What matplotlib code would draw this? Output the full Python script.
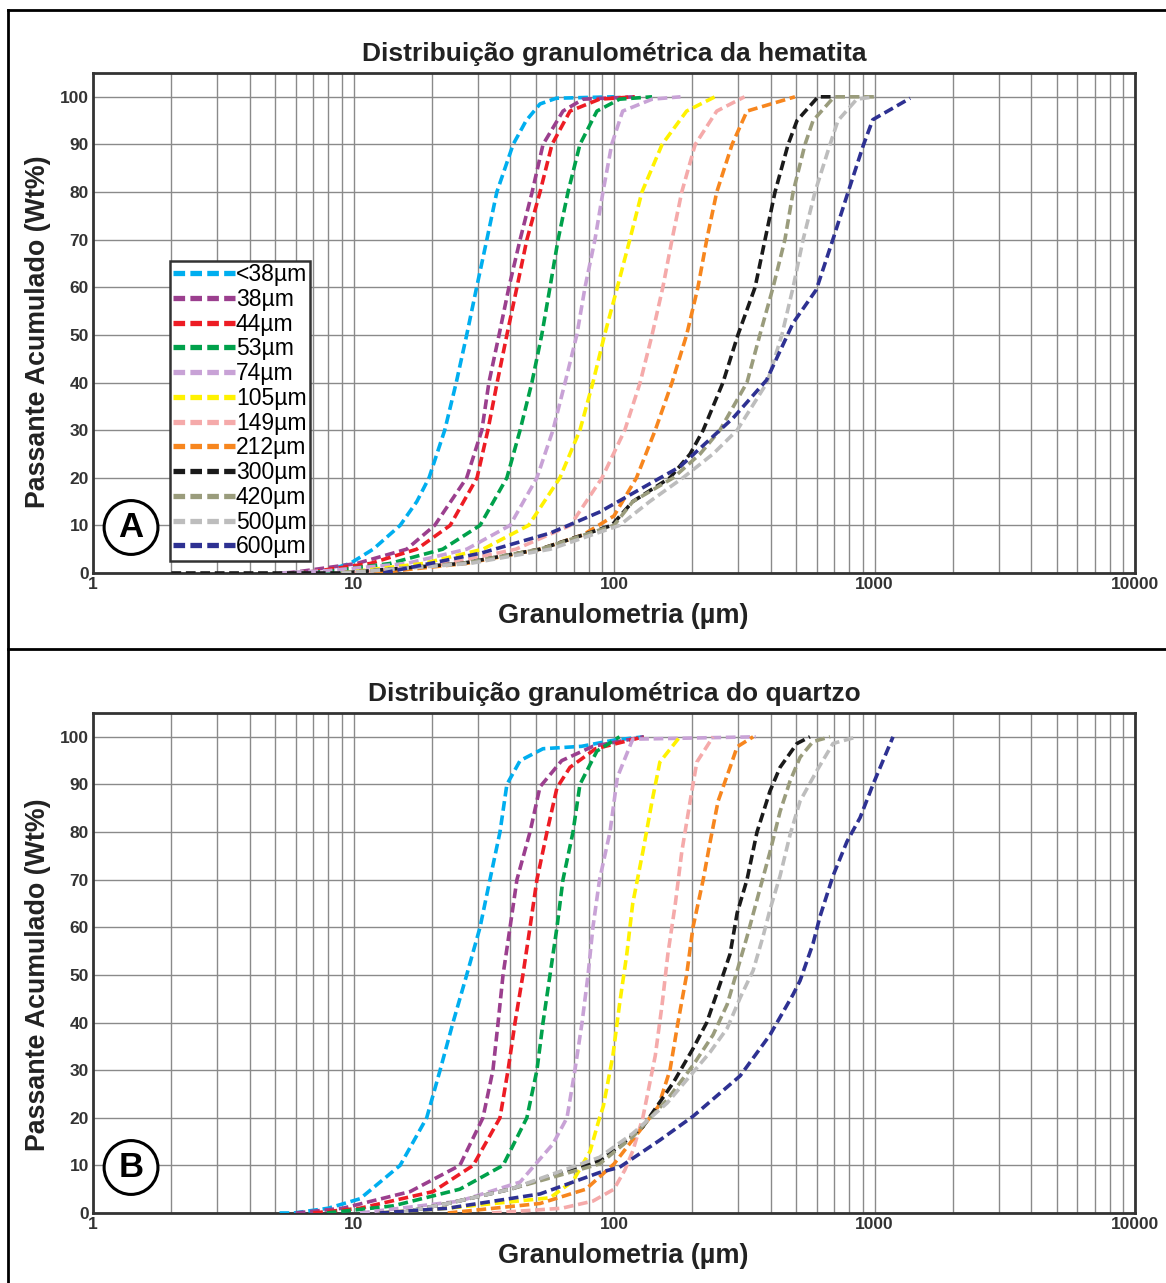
import matplotlib
matplotlib.use("Agg")
import matplotlib.pyplot as plt
from matplotlib.lines import Line2D

plt.rcParams['font.family'] = ['Liberation Sans', 'DejaVu Sans']

# ---------------- data ----------------
labels = ['<38µm', '38µm', '44µm', '53µm', '74µm', '105µm', '149µm', '212µm',
          '300µm', '420µm', '500µm', '600µm']
colors = ['#00AEEF', '#9B3F8E', '#ED1C24', '#00A14B', '#C8A2D6', '#FFF200',
          '#F5AAAA', '#F7861E', '#1A1A1A', '#9A9C7C', '#BDBDBD', '#2E3192']

x_ticks = [1, 10, 100, 1000, 10000]
x_tick_labels = ['1', '10', '100', '1000', '10000']
y_ticks = [0, 10, 20, 30, 40, 50, 60, 70, 80, 90, 100]

# Panel A - hematita
hem_lt38_x = [6, 7.9, 9.7, 11.9, 15.1, 17.5, 19.5, 22.4, 24.8, 27.2, 29.7, 32.5, 35.5, 41, 46, 52, 60, 100]
hem_lt38_y = [0, 0.5, 2, 5, 10, 15, 20, 30, 40, 50, 60, 70, 80, 90, 95, 98.5, 99.7, 100]
hem_38_x = [5.5, 6.2, 10.3, 16, 20.5, 27.2, 31.1, 33.1, 36.2, 39.5, 43.6, 48.5, 53.4, 63.7, 76, 120]
hem_38_y = [0, 0.3, 2, 5, 10, 20, 30, 40, 50, 60, 70, 80, 90, 97, 99.5, 100]
hem_44_x = [6, 7, 11.6, 17.5, 23.5, 29.8, 32.8, 35.6, 38.8, 42.4, 46.3, 52, 57.8, 67.8, 88, 120]
hem_44_y = [0, 0.3, 2, 5, 10, 20, 30, 40, 50, 60, 70, 80, 90, 97, 99.5, 100]
hem_53_x = [6, 8, 13.8, 22, 30.6, 38.8, 43.6, 48.4, 52.8, 56.8, 61, 66.6, 74, 86, 105, 140]
hem_53_y = [0, 0.3, 2, 5, 10, 20, 30, 40, 50, 60, 70, 80, 90, 97, 99.5, 100]
hem_74_x = [5.2, 8, 16, 27.2, 39.9, 50.6, 58.3, 64.9, 72, 77.4, 84.5, 90.7, 98, 108, 140, 180]
hem_74_y = [0, 0.5, 2, 5, 10, 20, 30, 40, 50, 60, 70, 80, 90, 97, 99.5, 100]
hem_105_x = [9, 18.5, 31.4, 47, 62, 74, 83, 92, 103, 115, 128, 153, 190, 244]
hem_105_y = [0, 2, 5, 10, 20, 30, 40, 50, 60, 70, 80, 90, 97, 100]
hem_149_x = [10, 23, 42, 68, 90, 110, 126, 140, 154, 167, 182, 205, 248, 317]
hem_149_y = [0, 2, 5, 10, 20, 30, 40, 50, 60, 70, 80, 90, 97, 100]
hem_212_x = [12, 27, 52, 76, 100, 122, 144, 167, 190, 210, 227, 248, 284, 324, 495]
hem_212_y = [0, 2, 5, 8, 12, 20, 30, 40, 50, 60, 70, 80, 90, 97, 100]
hem_300_x = [2, 9, 26, 52, 98, 118, 164, 196, 220, 262, 299, 348, 380, 415, 466, 504, 607, 700]
hem_300_y = [0, 0, 2, 5, 10, 15, 20, 25, 30, 40, 50, 60, 70, 80, 90, 95, 100, 100]
hem_420_x = [9, 26, 52, 100, 118, 169, 214, 255, 324, 363, 408, 453, 487, 541, 581, 700, 1020]
hem_420_y = [0, 2, 5, 10, 15, 20, 25, 30, 40, 50, 60, 70, 80, 90, 95, 100, 100]
hem_500_x = [9, 28, 57, 105, 137, 184, 240, 297, 387, 441, 487, 532, 591, 675, 724, 855, 1000]
hem_500_y = [0, 2, 5, 10, 15, 20, 25, 30, 40, 50, 60, 70, 80, 90, 95, 99.5, 100]
hem_600_x = [13, 31, 57, 88, 179, 286, 385, 487, 598, 692, 793, 907, 985, 1370]
hem_600_y = [0, 4.2, 8.4, 12.8, 22.3, 32.5, 40.5, 52.5, 59.5, 70, 80.1, 89.9, 95.2, 99.7]

# Panel B - quartzo
qtz_lt38_x = [5.2, 5.9, 8, 10.6, 15.1, 19.1, 21.5, 24.1, 27.2, 30.6, 33.4, 36.5, 38.8, 43.6, 53.4, 75, 100, 130]
qtz_lt38_y = [0, 0, 1, 3, 10, 20, 30, 40, 50, 60, 70, 80, 90, 95, 97.5, 98, 99.3, 100]
qtz_38_x = [6, 9.1, 16.5, 25.6, 31.4, 34.3, 35.9, 37.5, 39.9, 42.4, 47.6, 52, 63, 83, 130]
qtz_38_y = [0, 1, 4.5, 10, 20, 30, 40, 50, 60, 70, 80, 89.5, 95, 98, 100]
qtz_44_x = [7, 10.6, 20.2, 28.8, 36.5, 39.2, 41.7, 44.7, 47.6, 50.6, 55.3, 60.4, 67.8, 85, 130]
qtz_44_y = [0, 1, 4.5, 10, 20, 30, 40, 50, 60, 70, 80, 89.3, 93.6, 97.5, 100]
qtz_53_x = [7.9, 14.2, 25.6, 37.5, 46.3, 50.6, 53.4, 56.8, 60.4, 63.7, 69.6, 74, 86, 105]
qtz_53_y = [0, 1.5, 5, 10, 20, 30, 40, 50, 60, 70, 80, 90, 97, 100]
qtz_74_x = [10.6, 25.6, 43.6, 58.3, 66, 70.8, 75.4, 79.5, 83, 88, 96.5, 103, 118, 350]
qtz_74_y = [0, 2.5, 6.5, 14.5, 20, 30, 40, 50, 60, 70, 80, 91.5, 99.5, 100]
qtz_105_x = [12.6, 23, 56.8, 69.6, 81, 88, 91, 99, 105, 112, 118, 129, 140, 150, 179]
qtz_105_y = [0, 1, 3.2, 6.7, 13, 20, 22.4, 33, 43.8, 54.4, 65, 75.8, 86.5, 94.7, 100]
qtz_149_x = [34, 63, 83, 100, 110, 118, 129, 144, 153, 161, 172, 182, 196, 208, 240]
qtz_149_y = [0, 1, 2.5, 5, 9, 13, 20, 33, 43.8, 54.4, 65, 75.8, 86.5, 94.7, 100]
qtz_212_x = [23, 52, 78, 100, 115, 129, 148, 164, 176, 190, 201, 220, 234, 251, 279, 297, 342]
qtz_212_y = [0, 2, 5, 10.3, 14.6, 18.1, 22.4, 30, 40, 50, 60, 70, 78, 86.5, 93.6, 97.9, 100]
qtz_300_x = [15, 23, 40, 88, 105, 129, 169, 201, 227, 255, 279, 297, 324, 354, 397, 434, 504, 565]
qtz_300_y = [0, 2, 5, 11, 14, 18.1, 27.4, 34.5, 40, 48, 54.4, 63, 70, 80, 88.6, 93.6, 98.6, 100]
qtz_420_x = [15, 23, 40, 88, 118, 160, 201, 240, 272, 297, 324, 363, 397, 434, 474, 518, 581, 675]
qtz_420_y = [0, 2, 5, 10.3, 16, 23.8, 31, 37.4, 43.8, 50.9, 58, 68, 75.8, 84.3, 90.7, 95.7, 99, 100]
qtz_500_x = [15, 23, 40, 88, 118, 160, 196, 234, 272, 305, 342, 373, 397, 434, 474, 518, 601, 693, 857]
qtz_500_y = [0, 2, 5, 11.7, 16.7, 23.1, 28.8, 33.8, 38.8, 45.2, 50.9, 58, 63.7, 70.8, 79.4, 86.5, 92.9, 98.6, 100]
qtz_600_x = [12.6, 23, 52, 88, 105, 150, 201, 305, 397, 487, 518, 581, 618, 693, 784, 880, 987, 1178]
qtz_600_y = [0, 1, 4, 8.5, 9.6, 15.3, 20.3, 28.8, 37.4, 45.9, 48.8, 56.6, 62.3, 70.8, 78, 83, 90, 100]

hem_series = [(hem_lt38_x, hem_lt38_y), (hem_38_x, hem_38_y), (hem_44_x, hem_44_y),
              (hem_53_x, hem_53_y), (hem_74_x, hem_74_y), (hem_105_x, hem_105_y),
              (hem_149_x, hem_149_y), (hem_212_x, hem_212_y), (hem_300_x, hem_300_y),
              (hem_420_x, hem_420_y), (hem_500_x, hem_500_y), (hem_600_x, hem_600_y)]
qtz_series = [(qtz_lt38_x, qtz_lt38_y), (qtz_38_x, qtz_38_y), (qtz_44_x, qtz_44_y),
              (qtz_53_x, qtz_53_y), (qtz_74_x, qtz_74_y), (qtz_105_x, qtz_105_y),
              (qtz_149_x, qtz_149_y), (qtz_212_x, qtz_212_y), (qtz_300_x, qtz_300_y),
              (qtz_420_x, qtz_420_y), (qtz_500_x, qtz_500_y), (qtz_600_x, qtz_600_y)]

# ---------------- figure ----------------
W, H = 1166, 1283
fig = plt.figure(figsize=(W / 100, H / 100), dpi=100)

LW = 2.6
DASH = (0, (2.7, 1.3))


def make_panel(rect, series, title, letter, legend, ylab_y):
    ax = fig.add_axes(rect)
    ax.set_xscale('log')
    ax.set_xlim(1, 10000)
    ax.set_ylim(0, 105)
    for (xs, ys), c, lab in zip(series, colors, labels):
        ax.plot(xs, ys, color=c, lw=LW, linestyle=DASH, label=lab, zorder=3)
    ax.set_xticks(x_ticks)
    ax.set_xticklabels(x_tick_labels)
    ax.set_yticks(y_ticks)
    ax.grid(True, which='major', axis='both', color='#8A8A8A', lw=1.0, zorder=0)
    ax.grid(True, which='minor', axis='x', color='#8A8A8A', lw=1.0, zorder=0)
    ax.tick_params(which='both', length=0)
    ax.tick_params(axis='x', pad=3, labelsize=12.5)
    ax.tick_params(axis='y', pad=3, labelsize=12.5)
    for t in ax.get_xticklabels() + ax.get_yticklabels():
        t.set_fontweight('bold')
        t.set_color('#333333')
    for s in ax.spines.values():
        s.set_color('#333333')
        s.set_linewidth(2.0)
    ax.set_title(title, fontsize=19, fontweight='bold', color='#222222', pad=9)
    ax.set_xlabel('Granulometria (µm)', fontsize=19.5, fontweight='bold',
                  color='#222222')
    ax.xaxis.set_label_coords(0.509, -0.060)
    ax.set_ylabel('Passante Acumulado (Wt%)', fontsize=19.3, fontweight='bold',
                  color='#222222')
    ax.yaxis.set_label_coords(-0.0405, ylab_y)
    ax.text(0.0365, 0.091, letter, transform=ax.transAxes, fontsize=25,
            fontweight='bold', ha='center', va='center', zorder=6,
            bbox=dict(boxstyle='circle,pad=0.3', fc='white', ec='black', lw=2.2))
    if legend:
        handles = [Line2D([0], [0], color=c, lw=3.8, linestyle=(0, (2.2, 1.0)))
                   for c in colors]
        leg = ax.legend(handles, labels, loc='lower left',
                        bbox_to_anchor=(0.074, 0.024), fontsize=16.5,
                        handlelength=2.7, handletextpad=0.05, labelspacing=0.075,
                        borderpad=0.12, borderaxespad=0, frameon=True,
                        fancybox=False, edgecolor='#333333', framealpha=1)
        leg.get_frame().set_linewidth(1.8)
        leg.set_zorder(7)
    return ax


axA = make_panel([93 / W, 1 - 573 / H, 1042 / W, 500 / H], hem_series,
                 'Distribuição granulométrica da hematita', 'A', True, 0.482)
axB = make_panel([93 / W, 1 - 1213 / H, 1042 / W, 500 / H], qtz_series,
                 'Distribuição granulométrica do quartzo', 'B', False, 0.477)

# outer frame lines
fig.add_artist(Line2D([8 / W, 1], [1 - 10 / H, 1 - 10 / H], color='black', lw=2,
                      transform=fig.transFigure))
fig.add_artist(Line2D([8 / W, 8 / W], [1 - 10 / H, 0], color='black', lw=2,
                      transform=fig.transFigure))
fig.add_artist(Line2D([8 / W, 1], [1 - 649 / H, 1 - 649 / H], color='black', lw=2,
                      transform=fig.transFigure))

fig.savefig('out.png', dpi=100)
